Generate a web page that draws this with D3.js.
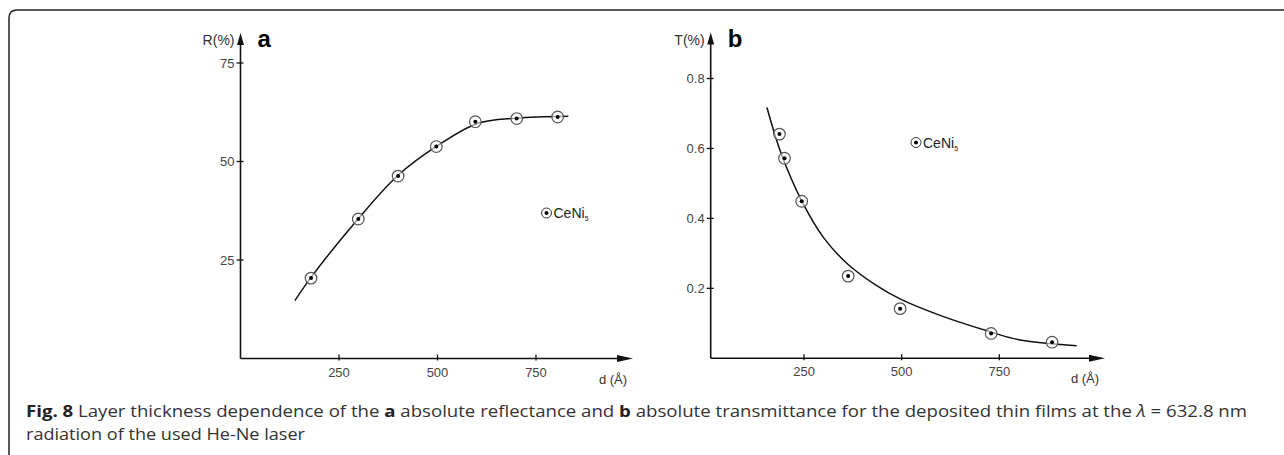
<!DOCTYPE html>
<html>
<head>
<meta charset="utf-8">
<script src="https://cdn.jsdelivr.net/npm/d3@7"></script>
<style>
  body { margin: 0; background: #fff; }
  svg { display: block; }
</style>
</head>
<body>
<div id="chart"></div>
<script>
// panel a: absolute reflectance
var dA = [179, 299, 400, 497, 596, 701, 805];
var rA = [20.4, 35.4, 46.3, 53.8, 60.1, 60.9, 61.3];
var fitDA = [138, 179, 300, 400, 500, 600, 700, 832];
var fitRA = [14.7, 20.6, 35.6, 46.5, 54, 59.6, 61, 61.5];
var ticksXA = [250, 500, 750];
var ticksYA = [25, 50, 75];

// panel b: absolute transmittance
var dB = [187, 200, 244, 363, 496, 729, 885];
var tB = [0.641, 0.572, 0.449, 0.235, 0.142, 0.071, 0.046];
var fitDB = [155, 190, 244, 300, 363, 430, 497, 600, 729, 800, 948];
var fitTB = [0.717, 0.59, 0.45, 0.345, 0.268, 0.212, 0.169, 0.122, 0.075, 0.053, 0.036];
var ticksXB = [250, 500, 750];
var ticksYB = [0.2, 0.4, 0.6, 0.8];

var width = 1284, height = 455;
var svg = d3.select("#chart").append("svg")
    .attr("width", width)
    .attr("height", height);

// rounded frame, open to the right and bottom
svg.append("path")
    .attr("d", "M9,455 L9,18 Q9,10 17,10 L1284,10")
    .style("fill", "none")
    .style("stroke", "#222")
    .style("stroke-width", 1.5);

var ink = "#111";
var labelColor = "#444";

function drawPanel(opt) {
  var g = svg.append("g");
  var x = opt.x, y = opt.y;
  var x0 = opt.axisX, y0 = y(0);

  // axes lines
  g.append("line")
    .attr("x1", x0).attr("x2", opt.arrowX - 8)
    .attr("y1", y0).attr("y2", y0)
    .style("stroke", ink).style("stroke-width", 1.6);
  g.append("line")
    .attr("x1", x0).attr("x2", x0)
    .attr("y1", y0).attr("y2", opt.arrowY + 8)
    .style("stroke", ink).style("stroke-width", 1.6);

  // arrow heads
  g.append("path")
    .attr("d", "M" + opt.arrowX + "," + y0 + " L" + (opt.arrowX - 16) + "," + (y0 - 3.5) +
               " L" + (opt.arrowX - 16) + "," + (y0 + 3.5) + " Z")
    .style("fill", ink);
  g.append("path")
    .attr("d", "M" + x0 + "," + opt.arrowY + " L" + (x0 - 3.5) + "," + (opt.arrowY + 12) +
               " L" + (x0 + 3.5) + "," + (opt.arrowY + 12) + " Z")
    .style("fill", ink);

  // ticks crossing the axes
  g.selectAll(".xt").data(opt.ticksX).enter().append("line")
    .attr("x1", function(d){ return x(d); }).attr("x2", function(d){ return x(d); })
    .attr("y1", y0 - 4).attr("y2", y0 + 2)
    .style("stroke", ink).style("stroke-width", 1.3);
  g.selectAll(".xl").data(opt.ticksX).enter().append("text")
    .attr("x", function(d){ return x(d); })
    .attr("y", y0 + 18)
    .attr("text-anchor", "middle")
    .style("font-family", "Liberation Sans, Arial, sans-serif")
    .style("font-size", "13px")
    .style("fill", labelColor)
    .text(function(d){ return d; });

  g.selectAll(".yt").data(opt.ticksY).enter().append("line")
    .attr("x1", x0 - 4).attr("x2", x0 + 3)
    .attr("y1", function(d){ return y(d); }).attr("y2", function(d){ return y(d); })
    .style("stroke", ink).style("stroke-width", 1.3);
  g.selectAll(".yl").data(opt.ticksY).enter().append("text")
    .attr("x", x0 - 6)
    .attr("y", function(d){ return y(d) + 4.5; })
    .attr("text-anchor", "end")
    .style("font-family", "Liberation Sans, Arial, sans-serif")
    .style("font-size", "13px")
    .style("fill", labelColor)
    .text(function(d){ return opt.fmt(d); });

  // axis titles
  g.append("text")
    .attr("x", x0 - 6).attr("y", opt.arrowY + 12)
    .attr("text-anchor", "end")
    .style("font-family", "Liberation Sans, Arial, sans-serif")
    .style("font-size", "14px")
    .style("fill", "#333")
    .text(opt.yTitle);
  g.append("text")
    .attr("x", opt.arrowX - 20).attr("y", y0 + 25)
    .attr("text-anchor", "middle")
    .style("font-family", "Liberation Sans, Arial, sans-serif")
    .style("font-size", "13px")
    .style("fill", "#333")
    .text("d (Å)");

  // panel letter
  g.append("text")
    .attr("x", x0 + 17).attr("y", opt.arrowY + 14)
    .style("font-family", "Liberation Sans, Arial, sans-serif")
    .style("font-size", "24px")
    .style("font-weight", "bold")
    .style("fill", "#000")
    .text(opt.letter);

  // fitted curve
  var line = d3.line()
    .x(function(d){ return x(d[0]); })
    .y(function(d){ return y(d[1]); })
    .curve(d3.curveCatmullRom);
  g.append("path")
    .datum(d3.zip(opt.fitD, opt.fitV))
    .attr("d", line)
    .style("fill", "none")
    .style("stroke", ink)
    .style("stroke-width", 1.5);

  // measured points: circle with dot
  var pts = g.selectAll(".pt").data(d3.zip(opt.d, opt.v)).enter().append("g")
    .attr("transform", function(d){ return "translate(" + x(d[0]) + "," + y(d[1]) + ")"; });
  pts.append("circle").attr("r", 5.8)
    .style("fill", "#fff").style("fill-opacity", 0.6)
    .style("stroke", "#555").style("stroke-width", 1.2);
  pts.append("circle").attr("r", 2).style("fill", "#000");

  // legend
  var lg = g.append("g").attr("transform", "translate(" + opt.legend[0] + "," + opt.legend[1] + ")");
  lg.append("circle").attr("r", 5).style("fill", "none").style("stroke", "#333").style("stroke-width", 1);
  lg.append("circle").attr("r", 2).style("fill", "#000");
  var lt = lg.append("text").attr("x", 7).attr("y", 5)
    .style("font-family", "Liberation Sans, Arial, sans-serif")
    .style("font-size", "14px")
    .style("fill", "#222")
    .text("CeNi");
  lt.append("tspan").attr("dy", 3).style("font-size", "7px").text("5");
}

// scales for panel a
var xA = d3.scaleLinear().domain([0, 1000]).range([240.5, 634.5]);
var yA = d3.scaleLinear().domain([0, 75]).range([358.5, 63]);

drawPanel({
  x: xA, y: yA, axisX: xA(0), arrowX: 633, arrowY: 33,
  ticksX: ticksXA, ticksY: ticksYA, fmt: function(d){ return d; },
  yTitle: "R(%)", letter: "a",
  d: dA, v: rA, fitD: fitDA, fitV: fitRA,
  legend: [546.5, 213]
});

// scales for panel b
var xB = d3.scaleLinear().domain([0, 1000]).range([706.4, 1097]);
var yB = d3.scaleLinear().domain([0, 0.8]).range([358.3, 78.5]);

drawPanel({
  x: xB, y: yB, axisX: 710.7, arrowX: 1105, arrowY: 32.5,
  ticksX: ticksXB, ticksY: ticksYB, fmt: d3.format(".1f"),
  yTitle: "T(%)", letter: "b",
  d: dB, v: tB, fitD: fitDB, fitV: fitTB,
  legend: [916, 142.5]
});

// caption
var cap = svg.append("g")
    .style("font-family", "Open Sans, sans-serif")
    .style("font-size", "16px")
    .style("fill", "#333");
var l1 = cap.append("text").attr("x", 26).attr("y", 416.5)
    .attr("textLength", 1221).attr("lengthAdjust", "spacingAndGlyphs");
l1.append("tspan").style("font-weight", "bold").style("fill", "#222").text("Fig. 8");
l1.append("tspan").text(" Layer thickness dependence of the ");
l1.append("tspan").style("font-weight", "bold").style("fill", "#222").text("a");
l1.append("tspan").text(" absolute reflectance and ");
l1.append("tspan").style("font-weight", "bold").style("fill", "#222").text("b");
l1.append("tspan").text(" absolute transmittance for the deposited thin films at the ");
l1.append("tspan").style("font-style", "italic").text("λ");
l1.append("tspan").text(" = 632.8 nm");
cap.append("text").attr("x", 26).attr("y", 440)
    .attr("textLength", 279).attr("lengthAdjust", "spacingAndGlyphs")
    .text("radiation of the used He-Ne laser");
</script>
</body>
</html>
